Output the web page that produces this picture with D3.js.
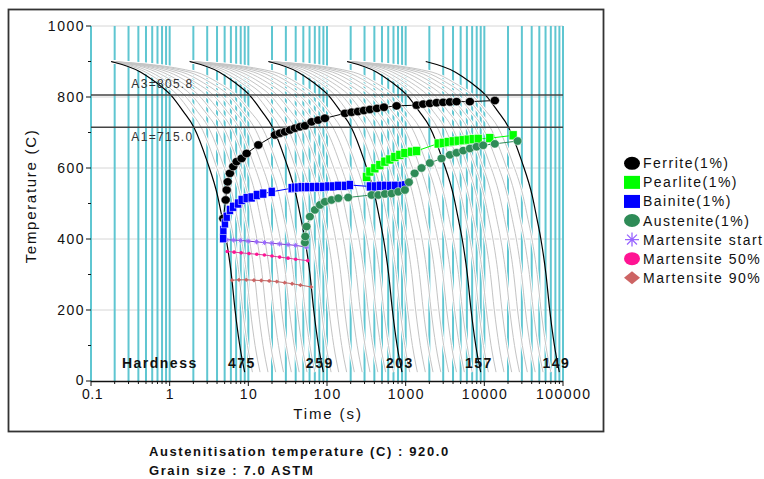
<!DOCTYPE html>
<html>
<head>
<meta charset="utf-8">
<script src="https://cdn.jsdelivr.net/npm/d3@7"></script>
<style>
  body { margin: 0; background: #fff; }
  text { font-family: "Liberation Sans", Arial, sans-serif; fill: #111; }
</style>
</head>
<body>
<svg id="chart" width="764" height="479"></svg>
<script>
// axis ticks
const yTicks = [0, 200, 400, 600, 800, 1000];
const yMinorTicks = [100, 300, 500, 700, 900];
const xTicks = [0.1, 1, 10, 100, 1000, 10000, 100000];
const xTickLabels = ["0.1", "1", "10", "100", "1000", "10000", "100000"];

// critical temperatures
const critLabels = ["A3=805.8", "A1=715.0"];
const critValues = [805.8, 715.0];

// first bold cooling curve: seconds after start, temperature
const coolStart = 0.18;
const coolElapsed = [0, 0.25, 0.5, 0.85, 1.3, 1.85, 2.8, 3.9, 4.5, 5.05, 5.9, 6.6, 7.6, 8.8];
const coolTemp = [900, 870, 840, 806, 760, 715, 620, 520, 455, 400, 300, 200, 100, 25];
// bold curves are one decade apart, thin curves fan out of each bold start
const boldShift = [1, 10, 100, 1000, 10000];
const greyRates = [1.26, 1.58, 2.0, 2.51, 3.16, 3.98, 5.01, 6.31, 7.94];

const hardnessLabels = ["475", "259", "203", "157", "149"];
const hardnessTime = [8.3, 81, 843, 8510, 82600];

// transformation start points [time s, temperature C]
const ferrite = [[4.8,458],[5.15,510],[5.3,538],[5.46,561],[5.83,585],[6.43,604],[7.1,618],[8.22,627],[9.51,641],
  [13.4,665],[21.8,693],[25.2,698],[29.2,702],[33.8,707],[39.1,712],[45.3,716],[52.4,719],[63.7,730],[77.3,735],[94,740],
  [169,754],[205,757],[247,759],[294,762],[351,765],[431,768],[529,771],[766,775],
  [1376,777],[1669,780],[2029,782],[2470,784],[2995,785],[3645,786],[4433,787],[6546,787],[13600,790]];
const pearlite = [[318,575],[351,590],[406,599],[470,608],[544,618],[630,624],[729,631],[844,637],[977,642],[1189,646],[1376,648],
  [2588,669],[2995,671],[3467,673],[4014,675],[4648,677],[5383,678],[6226,680],[7208,681],[8346,682],[11750,684],[23200,692]];
const bainite = [[4.8,402],[4.82,425],[5.04,444],[5.3,463],[5.83,482],[6.43,491],[7.44,500],[8.22,510],[9.51,515],[11,517],
  [12.8,524],[15.5,528],[19.8,533],[35.5,543],[39.1,545],[43.1,545],[47.5,546],[52.4,546],[57.7,546],[66.8,546],[77.3,547],
  [89.5,547],[104,548],[120,548],[139,550],[169,550],[195,552],[351,548],[406,548],[470,550],[544,550],[630,550],[729,550],
  [887,550],[977,551]];
const austenite = [[52.4,390],[53,407],[55,435],[60.6,463],[70.2,482],[81.3,496],[94,505],[114,510],[139,515],[186,517],
  [369,524],[448,524],[544,527],[662,528],[804,533],[977,538],[1100,560],[1300,585],[1591,600],[2030,614],[2857,627],
  [3645,637],[4433,643],[5383,649],[6546,655],[7961,660],[9661,664],[13600,668],[26500,676]];
const msStart = [[5.3,398],[6.5,397],[8.0,396],[10,394],[12.7,392],[16,390],[20,388],[25,386],[32,384],[40,382],[55,377]];
const ms50 = [[5.4,365],[6.6,363],[8.1,361],[10.2,359],[12.8,357],[16,355],[20,352],[25,349],[32,346],[40,343],[57,339]];
const ms90 = [[6.2,284],[7.6,285],[9.4,285],[11.8,284],[14.6,283],[18.4,282],[23,280],[29,277],[36,274],[46,270],[63,265]];

const legendLabels = ["Ferrite(1%)", "Pearlite(1%)", "Bainite(1%)", "Austenite(1%)", "Martensite start", "Martensite 50%", "Martensite 90%"];
const legendColors = ["#000000", "#00ff00", "#0000ff", "#2e8b57", "#9966ff", "#ff1493", "#cd6464"];
const legendShapes = ["ellipse", "square", "square", "ellipse", "asterisk", "ellipse", "diamond"];

const footLines = ["Austenitisation temperature (C) : 920.0", "Grain size : 7.0 ASTM"];

const svg = d3.select("#chart");
const x = d3.scaleLog().domain([0.1, 100000]).range([91, 563]);
const y = d3.scaleLinear().domain([0, 1000]).range([381, 26]);
const spaced = "1.5px";

// outer frame
svg.append("rect").attr("x", 8.5).attr("y", 9.5).attr("width", 595).attr("height", 422)
  .attr("fill", "none").attr("stroke", "#333").attr("stroke-width", 1.8);

// horizontal grid
svg.append("g").selectAll("line").data(yTicks.filter(d => d > 0)).join("line")
  .attr("x1", x.range()[0]).attr("x2", x.range()[1])
  .attr("y1", d => y(d)).attr("y2", d => y(d))
  .attr("stroke", "#d6d6d6").attr("stroke-width", 1);

// cyan vertical lines on every log tick
svg.append("g").selectAll("line").data(x.ticks()).join("line")
  .attr("x1", d => x(d)).attr("x2", d => x(d))
  .attr("y1", y(1000)).attr("y2", y(0))
  .attr("stroke", "#5fc6d1").attr("stroke-width", 2);

// cooling curves
const line = d3.line().x(d => x(d[0])).y(d => y(d[1])).curve(d3.curveMonotoneX);
const curvePoints = (shift, rate) => coolElapsed.map((e, i) => [shift * (coolStart + e * rate), coolTemp[i]]);

const greyCurves = [];
boldShift.slice(0, 4).forEach(s => greyRates.forEach(r => greyCurves.push(curvePoints(s, r))));
const boldCurves = boldShift.map(s => curvePoints(s, 1));

const gCool = svg.append("g").attr("fill", "none");
gCool.selectAll("path.halo").data(greyCurves).join("path").attr("class", "halo")
  .attr("d", line).attr("stroke", "#fff").attr("stroke-width", 3);
gCool.selectAll("path.grey").data(greyCurves).join("path").attr("class", "grey")
  .attr("d", line).attr("stroke", "#c4c4c4").attr("stroke-width", 1);
gCool.selectAll("path.bold").data(boldCurves).join("path").attr("class", "bold")
  .attr("d", line).attr("stroke", "#000").attr("stroke-width", 1.2);

// A3 / A1
critValues.forEach((v, i) => {
  svg.append("line").attr("x1", x.range()[0]).attr("x2", x.range()[1])
    .attr("y1", y(v)).attr("y2", y(v)).attr("stroke", "#444").attr("stroke-width", 1.5);
  svg.append("text").attr("x", x(0.4) - 7).attr("y", i === 0 ? y(v) - 7 : y(v) + 14)
    .attr("font-size", 12).style("letter-spacing", "1.3px").style("fill", "#333")
    .text(critLabels[i]);
});

// axes
const gAxis = svg.append("g");
gAxis.append("line").attr("x1", x.range()[0]).attr("x2", x.range()[1])
  .attr("y1", y(0) + 0.5).attr("y2", y(0) + 0.5).attr("stroke", "#111").attr("stroke-width", 1.3);
gAxis.selectAll("line.xt").data(x.ticks()).join("line").attr("class", "xt")
  .attr("x1", d => x(d)).attr("x2", d => x(d)).attr("y1", y(0))
  .attr("y2", d => y(0) + (xTicks.includes(d) ? 5 : 3)).attr("stroke", "#111");
gAxis.selectAll("line.yt").data(yTicks.concat(yMinorTicks)).join("line").attr("class", "yt")
  .attr("x1", d => x.range()[0] - (yTicks.includes(d) ? 5 : 3)).attr("x2", x.range()[0])
  .attr("y1", d => y(d)).attr("y2", d => y(d)).attr("stroke", "#111");
gAxis.selectAll("text.yl").data(yTicks).join("text").attr("class", "yl")
  .attr("x", 85).attr("y", d => y(d) - (d === 0 ? 1 : 0)).attr("dy", "0.35em").attr("text-anchor", "end")
  .attr("font-size", 14).style("letter-spacing", spaced).text(d => d);
gAxis.selectAll("text.xl").data(xTicks).join("text").attr("class", "xl")
  .attr("x", d => x(d) + (d === 0.1 ? 1.5 : 0.75)).attr("y", 399).attr("text-anchor", "middle")
  .attr("font-size", 14).style("letter-spacing", d => d === 0.1 ? "0.5px" : spaced).text((d, i) => xTickLabels[i]);
gAxis.append("text").attr("x", 328).attr("y", 419).attr("text-anchor", "middle")
  .attr("font-size", 15).style("letter-spacing", "1.9px").text("Time (s)");
gAxis.append("text").attr("transform", "translate(36,196) rotate(-90)").attr("text-anchor", "middle")
  .attr("font-size", 15).style("letter-spacing", "1.7px").text("Temperature (C)");

// hardness row
const gHard = svg.append("g").attr("font-size", 14).attr("font-weight", "bold")
  .style("letter-spacing", spaced);
gHard.append("text").attr("x", x(0.75)).attr("y", 368).attr("text-anchor", "middle").text("Hardness");
gHard.selectAll("text.hv").data(hardnessLabels).join("text").attr("class", "hv")
  .attr("x", (d, i) => x(hardnessTime[i])).attr("y", 368).attr("text-anchor", "middle").text(d => d);

// series
const px = d => x(d[0]), py = d => y(d[1]);
function connect(data, color, w) {
  svg.append("path").datum(data).attr("fill", "none").attr("stroke", color).attr("stroke-width", w)
    .attr("d", d3.line().x(px).y(py));
}
function asteriskPath(r) {
  const a = r * Math.SQRT1_2;
  return `M${-r},0L${r},0M0,${-r}L0,${r}M${-a},${-a}L${a},${a}M${-a},${a}L${a},${-a}`;
}

// martensite
[[msStart, "#7a3cc8", "ms"], [ms50, "#d8409a", "m50"], [ms90, "#b86460", "m90"]].forEach(([data, color, kind]) => {
  connect(data, color, 1);
  const g = svg.append("g");
  if (kind === "ms") {
    g.selectAll("path").data(data).join("path").attr("transform", d => `translate(${px(d)},${py(d)})`)
      .attr("d", asteriskPath(2.5)).attr("stroke", "#9966ff").attr("stroke-width", 1);
  } else if (kind === "m50") {
    g.selectAll("circle").data(data).join("circle").attr("cx", px).attr("cy", py).attr("r", 1.8).attr("fill", "#ff1493");
  } else {
    g.selectAll("path").data(data).join("path").attr("transform", d => `translate(${px(d)},${py(d)})`)
      .attr("d", "M0,-2.2L2.2,0L0,2.2L-2.2,0Z").attr("fill", "#cd6464");
  }
});

connect(ferrite, "#000", 1);
svg.append("g").selectAll("ellipse").data(ferrite).join("ellipse")
  .attr("cx", px).attr("cy", py).attr("rx", 4.6).attr("ry", 4.2)
  .attr("fill", "#000").attr("stroke", "#fff").attr("stroke-width", 0.5);

connect(pearlite, "#00ff00", 1);
svg.append("g").selectAll("rect").data(pearlite).join("rect")
  .attr("x", d => px(d) - 4).attr("y", d => py(d) - 4.5).attr("width", 8).attr("height", 9)
  .attr("fill", "#00ff00").attr("stroke", "#fff").attr("stroke-width", 0.5);

connect(bainite, "#0000ff", 1);
svg.append("g").selectAll("rect").data(bainite).join("rect")
  .attr("x", d => px(d) - 3.5).attr("y", d => py(d) - 4.5).attr("width", 7).attr("height", 9)
  .attr("fill", "#0000ff").attr("stroke", "#fff").attr("stroke-width", 0.5);

connect(austenite, "#2e8b57", 1);
svg.append("g").selectAll("ellipse").data(austenite).join("ellipse")
  .attr("cx", px).attr("cy", py).attr("rx", 4.4).attr("ry", 4.2)
  .attr("fill", "#2e8b57").attr("stroke", "#fff").attr("stroke-width", 0.5);

// legend
const leg = svg.append("g").selectAll("g").data(legendLabels).join("g")
  .attr("transform", (d, i) => `translate(632,${163.3 + i * 19.07})`);
leg.each(function (d, i) {
  const g = d3.select(this), c = legendColors[i];
  const shape = legendShapes[i];
  if (shape === "ellipse") g.append("ellipse").attr("rx", 8).attr("ry", 6.5).attr("fill", c);
  else if (shape === "square") g.append("rect").attr("x", -8).attr("y", -6.5).attr("width", 16).attr("height", 13).attr("fill", c);
  else if (shape === "asterisk") g.append("path").attr("d", asteriskPath(7)).attr("stroke", c).attr("stroke-width", 1.3);
  else g.append("path").attr("d", "M0,-6.5L8,0L0,6.5L-8,0Z").attr("fill", c);
});
leg.append("text").attr("x", 11).attr("dy", "0.36em").attr("font-size", 14)
  .style("letter-spacing", spaced).text(d => d);

// footer
svg.append("g").attr("font-size", 13).attr("font-weight", "bold").style("letter-spacing", "1.6px")
  .selectAll("text").data(footLines).join("text")
  .attr("x", 149).attr("y", (d, i) => 456 + i * 19).text(d => d);
</script>
</body>
</html>
